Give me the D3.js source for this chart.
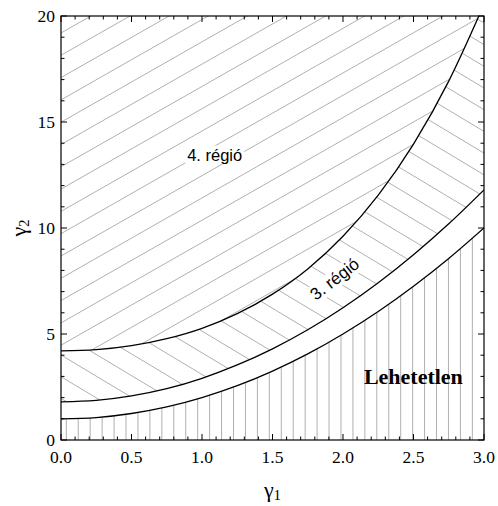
<!DOCTYPE html>
<html>
<head>
<meta charset="utf-8">
<script src="https://cdn.jsdelivr.net/npm/d3@7"></script>
<style>
  body { margin: 0; background: #fff; }
  svg { display: block; }
</style>
</head>
<body>
<div id="chart"></div>
<script>
// values
const gamma1 = [0, 0.25, 0.5, 0.75, 1.0, 1.25, 1.5, 1.75, 2.0, 2.25, 2.5, 2.75, 3.0];
const upperCurve = [4.2, 4.26, 4.45, 4.78, 5.27, 5.96, 6.88, 8.07, 9.61, 11.55, 13.96, 16.93, 20.55];
const middleCurve = [1.8, 1.87, 2.08, 2.42, 2.91, 3.54, 4.30, 5.20, 6.24, 7.42, 8.74, 10.20, 11.8];
const lowerCurve = [1.0, 1.06, 1.25, 1.56, 2.0, 2.56, 3.25, 4.06, 5.0, 6.06, 7.25, 8.56, 10.0];

const xTicks = [0, 0.5, 1.0, 1.5, 2.0, 2.5, 3.0];
const yTicks = [0, 5, 10, 15, 20];

const width = 498, height = 506;
const margin = { top: 16, right: 14, bottom: 66, left: 61 };
const innerW = width - margin.left - margin.right;
const innerH = height - margin.top - margin.bottom;

const x = d3.scaleLinear().domain([0, 3]).range([0, innerW]);
const y = d3.scaleLinear().domain([0, 20]).range([innerH, 0]);

const svg = d3.select("#chart").append("svg")
    .attr("width", width)
    .attr("height", height);

const defs = svg.append("defs");
const g = svg.append("g")
    .attr("transform", `translate(${margin.left},${margin.top})`);

const pts = (arr) => gamma1.map((v, i) => ({ x: v, y: arr[i] }));
const upper = pts(upperCurve), middle = pts(middleCurve), lower = pts(lowerCurve);

// clip regions
defs.append("clipPath").attr("id", "plot")
  .append("rect").attr("width", innerW).attr("height", innerH);

const band = (lo, hi) => d3.area()
    .curve(d3.curveMonotoneX)
    .x(d => x(d.x))
    .y0((d, i) => y(lo(d, i)))
    .y1((d, i) => y(hi(d, i)));

defs.append("clipPath").attr("id", "reg4")
  .append("path").attr("d", band(d => d.y, () => 30)(upper));
defs.append("clipPath").attr("id", "reg3")
  .append("path").attr("d", band((d, i) => middleCurve[i], d => d.y)(upper));
defs.append("clipPath").attr("id", "regLow")
  .append("path").attr("d", band(() => 0, d => d.y)(lower));

const plot = g.append("g").attr("clip-path", "url(#plot)");
const hatchColor = "#b0b0b0";

// region 4: "/" hatching
const h4 = plot.append("g").attr("clip-path", "url(#reg4)");
h4.selectAll("line").data(d3.range(-2, 40)).join("line")
    .attr("x1", 0).attr("x2", innerW)
    .attr("y1", k => 17 + 22.3 * k)
    .attr("y2", k => 17 + 22.3 * k - 0.57 * innerW)
    .attr("stroke", hatchColor).attr("stroke-width", 1);

// region 3: "\" hatching
const h3 = plot.append("g").attr("clip-path", "url(#reg3)");
h3.selectAll("line").data(d3.range(-30, 20)).join("line")
    .attr("x1", 0).attr("x2", innerW)
    .attr("y1", k => 339 + 21.7 * k)
    .attr("y2", k => 339 + 21.7 * k + 0.6 * innerW)
    .attr("stroke", hatchColor).attr("stroke-width", 1);

// impossible region: vertical hatching
const hl = plot.append("g").attr("clip-path", "url(#regLow)");
hl.selectAll("line").data(d3.range(0, 35)).join("line")
    .attr("x1", k => x(0.0376 + 0.0847 * k))
    .attr("x2", k => x(0.0376 + 0.0847 * k))
    .attr("y1", 0).attr("y2", innerH)
    .attr("stroke", hatchColor).attr("stroke-width", 1);

// boundary curves
const line = d3.line().curve(d3.curveMonotoneX).x(d => x(d.x)).y(d => y(d.y));
plot.selectAll("path.curve").data([upper, middle, lower]).join("path")
    .attr("class", "curve")
    .attr("d", line)
    .attr("fill", "none")
    .attr("stroke", "#000")
    .attr("stroke-width", 1.3);

// frame
g.append("rect").attr("width", innerW).attr("height", innerH)
    .attr("fill", "none").attr("stroke", "#000").attr("stroke-width", 1.2);

// ticks (inward on all four sides)
const xMinor = d3.range(0, 31).map(i => i / 10);
const yMinor = d3.range(0, 21);
const tk = g.append("g").attr("stroke", "#000").attr("stroke-width", 1);
const isMajorX = v => Math.abs(v * 2 - Math.round(v * 2)) < 1e-6;
xMinor.forEach(v => {
  const len = isMajorX(v) ? 6 : 3.5;
  tk.append("line").attr("x1", x(v)).attr("x2", x(v)).attr("y1", innerH).attr("y2", innerH - len);
  tk.append("line").attr("x1", x(v)).attr("x2", x(v)).attr("y1", 0).attr("y2", len);
});
yMinor.forEach(v => {
  const len = v % 5 === 0 ? 6 : 3.5;
  tk.append("line").attr("y1", y(v)).attr("y2", y(v)).attr("x1", 0).attr("x2", len);
  tk.append("line").attr("y1", y(v)).attr("y2", y(v)).attr("x1", innerW).attr("x2", innerW - len);
});

const serif = "'Liberation Serif', 'DejaVu Serif', serif";
g.selectAll("text.xt").data(xTicks).join("text")
    .attr("class", "xt")
    .attr("x", d => x(d)).attr("y", innerH + 23)
    .attr("text-anchor", "middle")
    .attr("font-family", serif).attr("font-size", 17.5)
    .text(d => d.toFixed(1));

g.selectAll("text.yt").data(yTicks).join("text")
    .attr("class", "yt")
    .attr("x", -6).attr("y", d => y(d) + 6)
    .attr("text-anchor", "end")
    .attr("font-family", serif).attr("font-size", 17.5)
    .text(d => d);

// axis titles
const xt = svg.append("text")
    .attr("x", margin.left + innerW / 2).attr("y", 497)
    .attr("text-anchor", "middle")
    .attr("font-family", serif).attr("font-size", 22);
xt.append("tspan").text("γ");
xt.append("tspan").attr("font-size", 15).attr("dy", 3).text("1");

const yt = svg.append("text")
    .attr("transform", `translate(26,${margin.top + innerH / 2}) rotate(-90)`)
    .attr("text-anchor", "middle")
    .attr("font-family", serif).attr("font-size", 22);
yt.append("tspan").text("γ");
yt.append("tspan").attr("font-size", 15).attr("dy", 3).text("2");

// region labels
const sans = "'Liberation Sans', Arial, sans-serif";
function label(px, py, rot, txt, size) {
  const lg = g.append("g").attr("transform", `translate(${px},${py}) rotate(${rot})`);
  const t = lg.append("text")
      .attr("text-anchor", "middle")
      .attr("font-family", sans).attr("font-size", size)
      .attr("dy", "0.35em")
      .text(txt);
  const bb = t.node().getBBox();
  lg.insert("rect", "text")
      .attr("x", bb.x - 2).attr("y", bb.y).attr("width", bb.width + 4).attr("height", bb.height)
      .attr("fill", "#fff");
}
label(x(1.09), y(13.45), 0, "4. régió", 16.5);
label(x(1.94), y(7.6), -38, "3. régió", 17);

g.append("text")
    .attr("x", x(2.85)).attr("y", y(2.64))
    .attr("text-anchor", "end")
    .attr("font-family", serif).attr("font-size", 22).attr("font-weight", "bold")
    .text("Lehetetlen");
</script>
</body>
</html>
